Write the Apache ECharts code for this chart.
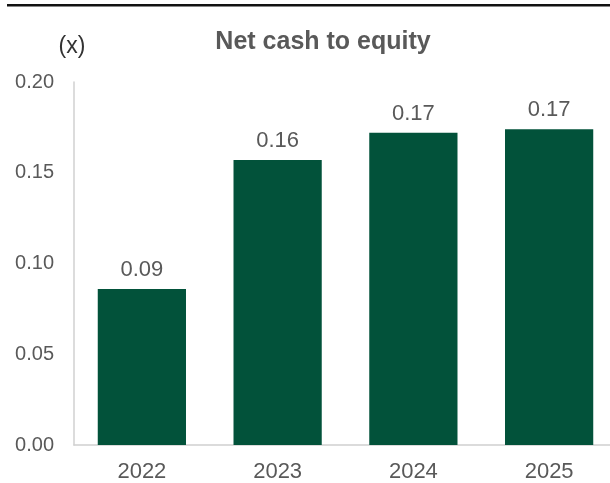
<!DOCTYPE html>
<html>
<head>
<meta charset="utf-8">
<script src="https://cdn.jsdelivr.net/npm/echarts@6/dist/echarts.min.js"></script>
<style>html,body{margin:0;padding:0;background:#fff;overflow:hidden}#c{width:620px;height:483px}</style>
</head>
<body>
<div id="c"></div>
<script>
const categories = ['2022', '2023', '2024', '2025'];
const values = [0.086, 0.157, 0.172, 0.174];
const yTicks = [0, 0.05, 0.10, 0.15, 0.20];
const titleText = 'Net cash to equity';
const unitText = '(x)';

const chart = echarts.init(document.getElementById('c'));
chart.setOption({
  animation: false,
  backgroundColor: '#fff',
  title: {
    text: titleText,
    left: 318, top: 25, textAlign: 'center',
    textStyle: {fontFamily: 'Liberation Sans', fontWeight: 'bold', fontSize: 25, color: '#595959'}
  },
  graphic: [
    {type: 'rect', shape: {x: 7, y: 4, width: 620, height: 2.5}, style: {fill: '#111'}},
    {type: 'text', x: 72, y: 47, style: {text: unitText, fontFamily: 'Liberation Sans', fontSize: 23, fill: '#333', align: 'center', verticalAlign: 'middle'}}
  ],
  grid: {left: 74, top: 82, width: 543, height: 364, containLabel: false},
  xAxis: {
    type: 'category', data: categories,
    axisLine: {lineStyle: {color: '#d0d0d0', width: 1.5}},
    axisTick: {show: false},
    axisLabel: {margin: 16, fontFamily: 'Liberation Sans', fontSize: 22, color: '#595959'}
  },
  yAxis: {
    type: 'value', min: yTicks[0], max: yTicks[yTicks.length - 1], interval: yTicks[1] - yTicks[0],
    axisLine: {show: true, lineStyle: {color: '#d0d0d0', width: 1.5}},
    axisTick: {show: false},
    splitLine: {show: false},
    axisLabel: {margin: 20, fontFamily: 'Liberation Sans', fontSize: 20, color: '#595959', formatter: v => v.toFixed(2)}
  },
  series: [{
    type: 'bar', data: values, barWidth: '65%',
    itemStyle: {color: '#02523a'},
    label: {show: true, position: 'top', distance: 8, fontFamily: 'Liberation Sans', fontSize: 22, color: '#595959', formatter: p => p.value.toFixed(2)}
  }]
});
</script>
</body>
</html>
